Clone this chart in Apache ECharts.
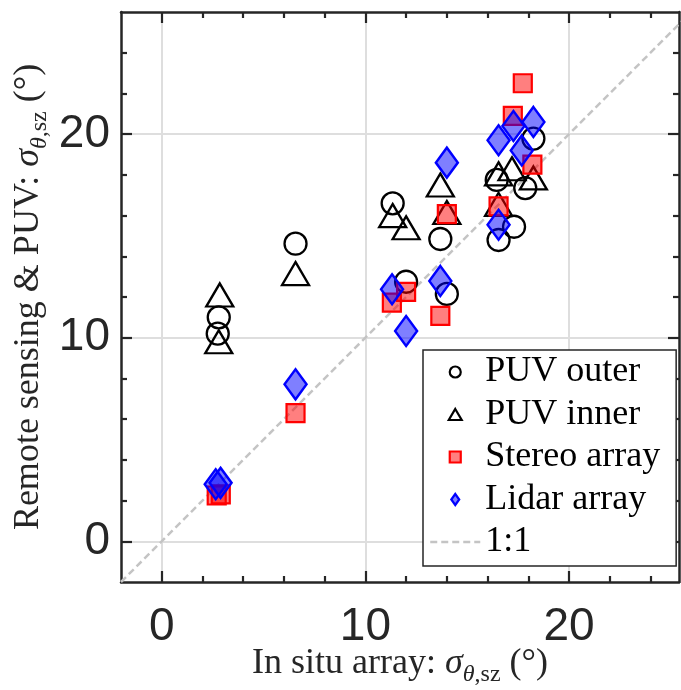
<!DOCTYPE html>
<html>
<head>
<meta charset="utf-8">
<script src="https://cdn.jsdelivr.net/npm/echarts@6/dist/echarts.min.js"></script>
<style>
  html, body { margin: 0; padding: 0; background: #ffffff; }
  #chart { width: 681px; height: 690px; }
</style>
</head>
<body>
<div id="chart"></div>
<script>
// In situ array spread (x) against remote-sensing / PUV estimates (y), degrees
const outerX = [2.8, 2.75, 6.57, 11.34, 12.0, 13.68, 14.0, 16.45, 17.85, 18.25, 17.3, 16.54];
const outerY = [11.0, 10.2, 14.62, 16.6, 12.75, 14.85, 12.15, 17.75, 17.35, 19.78, 15.45, 14.8];

const innerX = [2.85, 2.8, 6.57, 11.34, 12.0, 13.68, 14.0, 16.54, 17.2, 18.25, 16.54];
const innerY = [12.1, 9.8, 13.15, 16.0, 15.4, 17.5, 16.15, 18.05, 18.3, 17.85, 16.55];

const stereoX = [2.7, 2.9, 6.57, 11.3, 12.0, 13.68, 14.0, 16.54, 17.24, 17.73, 18.2];
const stereoY = [2.25, 2.3, 6.3, 11.72, 12.25, 11.07, 16.07, 16.45, 20.9, 22.5, 18.5];

const lidarX = [2.65, 2.89, 6.57, 11.31, 12.0, 13.68, 14.0, 16.54, 17.27, 18.25, 17.68, 16.54];
const lidarY = [2.8, 2.87, 7.71, 12.38, 10.33, 12.79, 18.6, 19.7, 20.4, 20.6, 19.2, 15.55];

const seriesNames = ['PUV outer', 'PUV inner', 'Stereo array', 'Lidar array', '1:1'];

const xRange = [-2, 25.4];
const yRange = [-2, 26];
const oneToOneEnds = [-2, 26];
const majorTicks = [0, 10, 20];
const minorTicks = [2, 4, 6, 8, 12, 14, 16, 18, 22, 24];

const xTitle = '{t|In situ array: }{i|σ}{si|θ}{s|,sz}{t| (°)}';
const yTitle = '{t|Remote sensing & PUV: }{i|σ}{si|θ}{s|,sz}{t| (°)}';

const AXIS = '#262626';
const GRIDLINE = '#dedede';
const REF_LINE = '#c4c4c4';
const SERIF = 'Liberation Serif';
const SANS = 'Liberation Sans';
// marker outlines as paths so legend icons keep their proportions
const CIRCLE = 'circle';
const TRIANGLE = 'path://M13.5,0L27,23L0,23Z';
const SQUARE = 'path://M0,0L10,0L10,10L0,10Z';
const DIAMOND = 'path://M0,-1L0.72,0L0,1L-0.72,0Z';

const zip = (xs, ys) => xs.map((x, i) => [x, ys[i]]);

const titleRich = {
  t:  { fontFamily: SERIF, fontSize: 36, lineHeight: 36, color: AXIS },
  i:  { fontFamily: SERIF, fontSize: 36, lineHeight: 36, fontStyle: 'italic', color: AXIS },
  si: { fontFamily: SERIF, fontSize: 24, lineHeight: 24, fontStyle: 'italic', color: AXIS,
        verticalAlign: 'top', padding: [17, 0, 0, 0] },
  s:  { fontFamily: SERIF, fontSize: 24, lineHeight: 24, color: AXIS,
        verticalAlign: 'top', padding: [17, 0, 0, 0] }
};

function axisSet(dim, range, name, nameGap, labelMargin) {
  const lowPos = dim === 'x' ? 'bottom' : 'left';
  const highPos = dim === 'x' ? 'top' : 'right';
  const tickLine = { color: AXIS, width: 2.2 };
  const common = { type: 'value', gridIndex: 0, min: range[0], max: range[1], silent: true };
  return [
    // main axis: border line, long ticks, labels, grid lines, title
    Object.assign({}, common, {
      position: lowPos,
      axisLine: { show: true, onZero: false, lineStyle: { color: AXIS, width: 2.5 } },
      axisTick: { show: true, inside: true, length: 11, customValues: majorTicks, lineStyle: tickLine },
      axisLabel: { show: true, customValues: majorTicks, margin: labelMargin,
                   fontFamily: SANS, fontSize: 46, color: AXIS },
      splitLine: { show: true, lineStyle: { color: GRIDLINE, width: 2 } },
      name: name, nameLocation: 'middle', nameGap: nameGap, nameMoveOverlap: false,
      nameRotate: dim === 'y' ? 90 : 0,
      nameTextStyle: { rich: titleRich }
    }),
    // short ticks on the same side
    Object.assign({}, common, {
      position: lowPos,
      axisLine: { show: false, onZero: false },
      axisTick: { show: true, inside: true, length: 6, customValues: minorTicks, lineStyle: tickLine },
      axisLabel: { show: false },
      splitLine: { show: false }
    }),
    // mirrored box side with long ticks
    Object.assign({}, common, {
      position: highPos,
      axisLine: { show: true, onZero: false, lineStyle: { color: AXIS, width: 2.5 } },
      axisTick: { show: true, inside: true, length: 11, customValues: majorTicks, lineStyle: tickLine },
      axisLabel: { show: false },
      splitLine: { show: false }
    }),
    // mirrored short ticks
    Object.assign({}, common, {
      position: highPos,
      axisLine: { show: false, onZero: false },
      axisTick: { show: true, inside: true, length: 6, customValues: minorTicks, lineStyle: tickLine },
      axisLabel: { show: false },
      splitLine: { show: false }
    })
  ];
}

const chart = echarts.init(document.getElementById('chart'), null, { renderer: 'canvas' });

chart.setOption({
  animation: false,
  backgroundColor: '#ffffff',
  grid: { left: 121, top: 12, width: 558, height: 570, outerBoundsMode: 'none', containLabel: false },
  xAxis: axisSet('x', xRange, xTitle, 64, 22),
  yAxis: axisSet('y', yRange, yTitle, 74, 11),
  legend: {
    orient: 'vertical', left: 423, top: 350,
    padding: [4, 16, 6, 6], itemGap: 6.5,
    itemWidth: 50, itemHeight: 11,
    backgroundColor: '#ffffff', borderColor: AXIS, borderWidth: 1.5, borderRadius: 0,
    selectedMode: false, symbolKeepAspect: true,
    textStyle: { fontFamily: SERIF, fontSize: 36, lineHeight: 36, color: '#000000' },
    data: [
      { name: seriesNames[0], icon: CIRCLE,
        itemStyle: { color: 'rgba(0,0,0,0)', borderColor: '#000000', borderWidth: 2.2 } },
      { name: seriesNames[1], icon: TRIANGLE,
        itemStyle: { color: 'rgba(0,0,0,0)', borderColor: '#000000', borderWidth: 2.2 } },
      { name: seriesNames[2], icon: SQUARE,
        itemStyle: { color: 'rgba(255,0,0,0.5)', borderColor: '#ff0000', borderWidth: 2.2 } },
      { name: seriesNames[3], icon: DIAMOND,
        itemStyle: { color: 'rgba(0,0,255,0.5)', borderColor: '#0000ff', borderWidth: 2.2 } },
      { name: seriesNames[4],
        itemStyle: { color: 'rgba(0,0,0,0)', borderColor: 'rgba(0,0,0,0)', borderWidth: 0, opacity: 0 },
        lineStyle: { color: REF_LINE, width: 2.5, type: [7, 4] } }
    ]
  },
  series: [
    {
      name: seriesNames[4], type: 'line', xAxisIndex: 0, yAxisIndex: 0,
      data: zip(oneToOneEnds, oneToOneEnds),
      symbol: 'none', showSymbol: false, clip: true, z: 1,
      lineStyle: { color: REF_LINE, width: 2.5, type: [7, 4] },
      itemStyle: { color: REF_LINE }
    },
    {
      name: seriesNames[0], type: 'scatter', xAxisIndex: 0, yAxisIndex: 0,
      data: zip(outerX, outerY), symbol: CIRCLE, symbolSize: 22, z: 2,
      itemStyle: { color: 'rgba(0,0,0,0)', borderColor: '#000000', borderWidth: 2.3, opacity: 1 }
    },
    {
      name: seriesNames[1], type: 'scatter', xAxisIndex: 0, yAxisIndex: 0,
      data: zip(innerX, innerY), symbol: TRIANGLE, symbolSize: [27, 23], z: 3,
      itemStyle: { color: 'rgba(0,0,0,0)', borderColor: '#000000', borderWidth: 2.3, opacity: 1 }
    },
    {
      name: seriesNames[2], type: 'scatter', xAxisIndex: 0, yAxisIndex: 0,
      data: zip(stereoX, stereoY), symbol: SQUARE, symbolSize: 18, z: 4,
      itemStyle: { color: 'rgba(255,0,0,0.5)', borderColor: '#ff0000', borderWidth: 2.2, opacity: 1 }
    },
    {
      name: seriesNames[3], type: 'scatter', xAxisIndex: 0, yAxisIndex: 0,
      data: zip(lidarX, lidarY), symbol: DIAMOND, symbolSize: [22, 30], z: 5,
      itemStyle: { color: 'rgba(0,0,255,0.5)', borderColor: '#0000ff', borderWidth: 2.5, opacity: 1 }
    }
  ]
});
</script>
</body>
</html>
